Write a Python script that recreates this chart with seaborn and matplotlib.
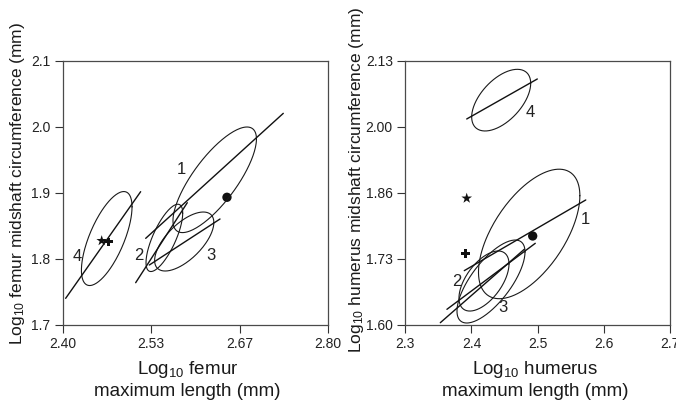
import numpy as np
import pandas as pd
import matplotlib
matplotlib.use("Agg")
import matplotlib.pyplot as plt
import seaborn as sns

# ---------------- data ----------------
groups = ["1", "2", "3", "4"]

# femur panel: ellipses (centre, half x-extent, half y-extent, tilt = cos of phase)
fem_ell_cx = [2.629, 2.553, 2.583, 2.466]
fem_ell_cy = [1.920, 1.832, 1.8265, 1.831]
fem_ell_ax = [0.063, 0.0277, 0.0447, 0.0382]
fem_ell_ay = [0.080, 0.051, 0.0447, 0.0712]
fem_ell_tilt = [0.773, 0.733, 0.644, 0.674]
# femur regression lines
fem_line_x0 = [2.5248, 2.5097, 2.5303, 2.404]
fem_line_y0 = [1.8313, 1.7641, 1.7909, 1.7404]
fem_line_x1 = [2.7325, 2.5876, 2.6370, 2.5172]
fem_line_y1 = [2.0207, 1.8853, 1.8606, 1.902]
# femur group labels
fem_lab_x = [2.579, 2.515, 2.623, 2.4216]
fem_lab_y = [1.935, 1.806, 1.806, 1.8045]
# femur specimens: circle, star, plus
fem_pt_x = [2.6475, 2.4584, 2.4684]
fem_pt_y = [1.8935, 1.8277, 1.826]

# humerus panel
hum_ell_cx = [2.4872, 2.4189, 2.4295, 2.4449]
hum_ell_cy = [1.7828, 1.6883, 1.6873, 2.0514]
hum_ell_ax = [0.0766, 0.0378, 0.0514, 0.0446]
hum_ell_ay = [0.130, 0.0603, 0.0833, 0.0619]
hum_ell_tilt = [0.59, 0.567, 0.712, 0.546]
hum_line_x0 = [2.3891, 2.3629, 2.3529, 2.3928]
hum_line_y0 = [1.7091, 1.6315, 1.6046, 2.0136]
hum_line_x1 = [2.5727, 2.4964, 2.4798, 2.4995]
hum_line_y1 = [1.851, 1.764, 1.752, 2.0939]
hum_lab_x = [2.5716, 2.3776, 2.4472, 2.4885]
hum_lab_y = [1.811, 1.687, 1.6355, 2.027]
hum_pt_x = [2.4925, 2.3928, 2.3907]
hum_pt_y = [1.7787, 1.8544, 1.744]

fem_xticks = [2.40, 2.5333, 2.6667, 2.80]
fem_xticklabels = ["2.40", "2.53", "2.67", "2.80"]
fem_yticks = [1.7, 1.8, 1.9, 2.0, 2.1]
fem_yticklabels = ["1.7", "1.8", "1.9", "2.0", "2.1"]
hum_xticks = [2.3, 2.4, 2.5, 2.6, 2.7]
hum_xticklabels = ["2.3", "2.4", "2.5", "2.6", "2.7"]
hum_yticks = [1.60, 1.7325, 1.865, 1.9975, 2.13]
hum_yticklabels = ["1.60", "1.73", "1.86", "2.00", "2.13"]

fem_xlabel = "Log$_{10}$ femur\nmaximum length (mm)"
fem_ylabel = "Log$_{10}$ femur midshaft circumference (mm)"
hum_xlabel = "Log$_{10}$ humerus\nmaximum length (mm)"
hum_ylabel = "Log$_{10}$ humerus midshaft circumference (mm)"

# ---------------- style ----------------
sns.set_theme(style="ticks")
plt.rcParams["font.family"] = ["Liberation Sans", "DejaVu Sans"]
plt.rcParams["mathtext.fontset"] = "custom"
plt.rcParams["mathtext.rm"] = "Liberation Sans"
plt.rcParams["mathtext.it"] = "Liberation Sans:italic"

fig = plt.figure(figsize=(6.76, 4.05), dpi=100)
ax1 = fig.add_axes([63 / 676, 80 / 405, 265 / 676, 264 / 405])
ax2 = fig.add_axes([405.3 / 676, 80 / 405, 264.7 / 676, 264 / 405])

t = np.linspace(0, 2 * np.pi, 200)


def draw_panel(ax, ecx, ecy, eax, eay, etilt, lx0, ly0, lx1, ly1, labx, laby,
               px, py, xticks, xtl, yticks, ytl, xlim, ylim, xlabel, ylabel):
    rows = []
    for g, cx, cy, a, b, c in zip(groups, ecx, ecy, eax, eay, etilt):
        phi = np.arccos(c)
        for i, tt in enumerate(t):
            rows.append((g, i, cx + a * np.cos(tt), cy + b * np.cos(tt + phi)))
    ell = pd.DataFrame(rows, columns=["group", "order", "x", "y"])
    sns.lineplot(data=ell, x="x", y="y", units="group", estimator=None,
                 sort=False, color="#1a1a1a", lw=0.8, ax=ax)
    lines = pd.DataFrame({
        "group": groups * 2,
        "x": list(lx0) + list(lx1),
        "y": list(ly0) + list(ly1),
    })
    sns.lineplot(data=lines, x="x", y="y", units="group", estimator=None,
                 sort=False, color="#111111", lw=1.0, ax=ax)
    markers = ["o", "*", "P"]
    sizes = [45, 65, 38]
    for x, y, m, s in zip(px, py, markers, sizes):
        sns.scatterplot(x=[x], y=[y], marker=m, s=s, color="#111111",
                        edgecolor="none", ax=ax)
    for g, x, y in zip(groups, labx, laby):
        ax.text(x, y, g, fontsize=12, color="#222222", ha="center", va="center")
    ax.set_xlim(*xlim)
    ax.set_ylim(*ylim)
    ax.set_xticks(xticks)
    ax.set_xticklabels(xtl)
    ax.set_yticks(yticks)
    ax.set_yticklabels(ytl)
    ax.tick_params(direction="out", length=6, width=0.8, labelsize=10,
                   colors="#333333", labelcolor="#222222", pad=3)
    for sp in ax.spines.values():
        sp.set_visible(True)
        sp.set_color("#4a4a4a")
        sp.set_linewidth(0.9)
    ax.set_xlabel(xlabel, fontsize=13.5, color="#1a1a1a", linespacing=1.2)
    ax.set_ylabel(ylabel, fontsize=12.5, color="#1a1a1a")
    ax.xaxis.label.set_va("top")


draw_panel(ax1, fem_ell_cx, fem_ell_cy, fem_ell_ax, fem_ell_ay, fem_ell_tilt,
           fem_line_x0, fem_line_y0, fem_line_x1, fem_line_y1,
           fem_lab_x, fem_lab_y, fem_pt_x, fem_pt_y,
           fem_xticks, fem_xticklabels, fem_yticks, fem_yticklabels,
           (2.40, 2.80), (1.7, 2.1), fem_xlabel, fem_ylabel)
draw_panel(ax2, hum_ell_cx, hum_ell_cy, hum_ell_ax, hum_ell_ay, hum_ell_tilt,
           hum_line_x0, hum_line_y0, hum_line_x1, hum_line_y1,
           hum_lab_x, hum_lab_y, hum_pt_x, hum_pt_y,
           hum_xticks, hum_xticklabels, hum_yticks, hum_yticklabels,
           (2.3, 2.7), (1.60, 2.13), hum_xlabel, hum_ylabel)

ax1.xaxis.set_label_coords(0.47, -0.13)
ax2.xaxis.set_label_coords(0.49, -0.13)
ax1.yaxis.set_label_coords(-0.135, 0.535)
ax2.yaxis.set_label_coords(-0.15, 0.55)

fig.savefig("out.png", dpi=100)
